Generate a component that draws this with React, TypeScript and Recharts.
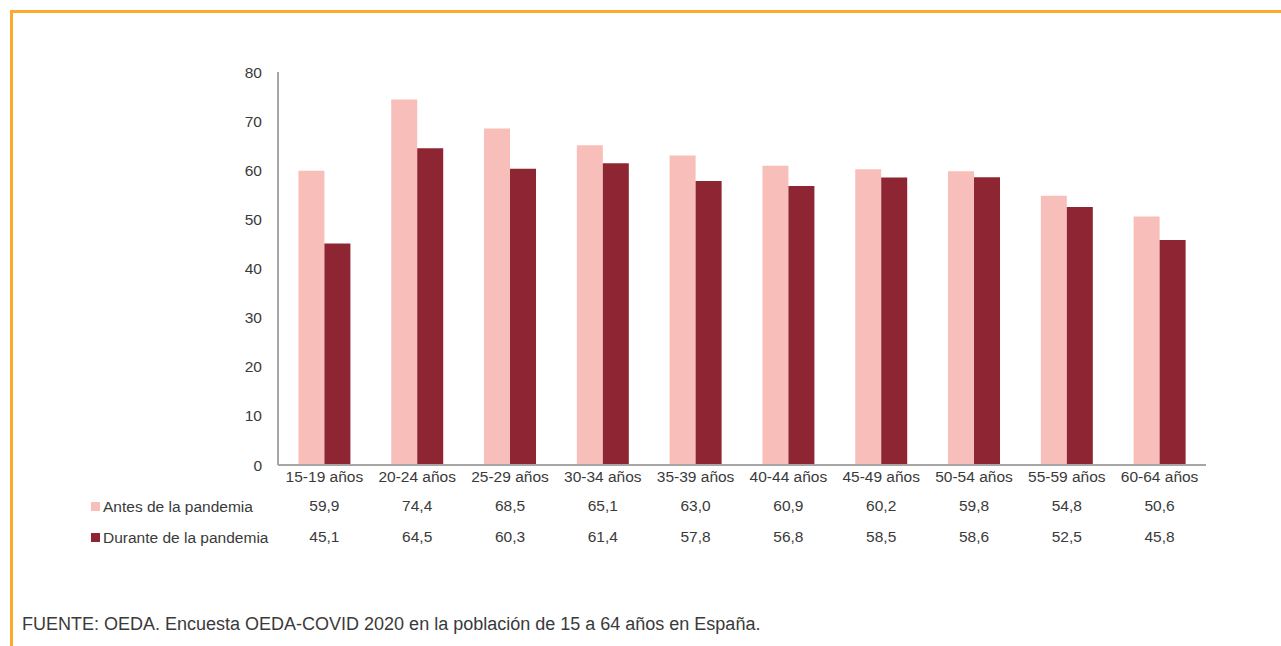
import React from 'react';
import { BarChart, Bar, XAxis, YAxis, Legend } from 'recharts';

const categories = ['15-19 años', '20-24 años', '25-29 años', '30-34 años', '35-39 años', '40-44 años', '45-49 años', '50-54 años', '55-59 años', '60-64 años'];
const antes = [59.9, 74.4, 68.5, 65.1, 63.0, 60.9, 60.2, 59.8, 54.8, 50.6];
const durante = [45.1, 64.5, 60.3, 61.4, 57.8, 56.8, 58.5, 58.6, 52.5, 45.8];
const yTicks = [0, 10, 20, 30, 40, 50, 60, 70, 80];
const seriesNames = ['Antes de la pandemia', 'Durante de la pandemia'];
const source = 'FUENTE: OEDA. Encuesta OEDA-COVID 2020 en la población de 15 a 64 años en España.';

const PINK = '#f8bfba';
const WINE = '#8e2533';
const TEXT = '#3a3a3a';
const FONT = '"Liberation Sans", Arial, Helvetica, sans-serif';
const FS = 15.5;

const data = categories.map((c, i) => ({ name: c, antes: antes[i], durante: durante[i] }));

const fmt = (v: number) => v.toFixed(1).replace('.', ',');

// category label plus the two value rows of the table underneath
const TableTick = (props: any) => {
    const { x, y, payload } = props;
    const i = payload.index;
    return (
        <g>
            <text x={x} y={y} dy="0.71em" textAnchor="middle" fill={TEXT} fontSize={FS} fontFamily={FONT}>{payload.value}</text>
            <text x={x} y={y + 29} dy="0.71em" textAnchor="middle" fill={TEXT} fontSize={FS} fontFamily={FONT}>{fmt(antes[i])}</text>
            <text x={x} y={y + 60} dy="0.71em" textAnchor="middle" fill={TEXT} fontSize={FS} fontFamily={FONT}>{fmt(durante[i])}</text>
        </g>
    );
};

const RowLegend = (props: any) => {
    const { payload } = props;
    return (
        <div>
            {payload.map((p: any, i: number) => (
                <div key={`leg-${i}`} style={{ display: 'flex', alignItems: 'center', height: 31, fontSize: FS, color: TEXT, fontFamily: FONT }}>
                    <span style={{ width: 9, height: 9, background: p.color, display: 'inline-block', marginRight: 3 }} />
                    {p.value}
                </div>
            ))}
        </div>
    );
};

const App: React.FC = () => {
    return (
        <div style={{ position: 'absolute', left: 0, top: 0, width: 1281, height: 646, background: '#fff', fontFamily: FONT }}>
            <div style={{ position: 'absolute', left: 10, top: 10, width: 1271, height: 636, borderTop: '3px solid #fbaa2e', borderLeft: '3px solid #fbaa2e', boxSizing: 'border-box' }} />
            <BarChart
                width={1281}
                height={646}
                data={data}
                margin={{ top: 72, right: 75, left: 0, bottom: 89 }}
                barCategoryGap="22%"
                barGap={0}
            >
                <YAxis
                    width={278}
                    domain={[0, 80]}
                    ticks={yTicks}
                    tickLine={false}
                    tickSize={0}
                    tickMargin={16}
                    axisLine={{ stroke: '#a6a6a6', strokeWidth: 2 }}
                    tick={{ fill: TEXT, fontSize: FS, fontFamily: FONT }}
                />
                <XAxis
                    dataKey="name"
                    height={30}
                    tickLine={false}
                    tickSize={0}
                    tickMargin={6}
                    interval={0}
                    axisLine={{ stroke: '#a6a6a6', strokeWidth: 2 }}
                    tick={<TableTick />}
                />
                <Legend
                    layout="vertical"
                    content={<RowLegend />}
                    wrapperStyle={{ position: 'absolute', left: 91, top: 491, width: 200 }}
                />
                <Bar dataKey="antes" name={seriesNames[0]} fill={PINK} isAnimationActive={false} />
                <Bar dataKey="durante" name={seriesNames[1]} fill={WINE} isAnimationActive={false} />
            </BarChart>
            <div style={{ position: 'absolute', left: 22, top: 614, fontSize: 18, color: TEXT, whiteSpace: 'nowrap' }}>{source}</div>
        </div>
    );
};

export default App;
